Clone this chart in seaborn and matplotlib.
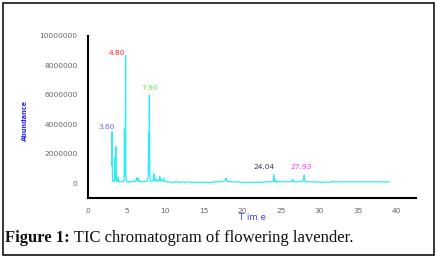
import matplotlib
matplotlib.use("Agg")
import matplotlib.pyplot as plt
import seaborn as sns
import pandas as pd
from matplotlib.patches import Rectangle
from matplotlib.ticker import MultipleLocator

# ---- data ----
time_min = [
    3.08, 3.10, 3.14, 3.18, 3.24, 3.32, 3.40, 3.47, 3.50, 3.53, 3.57, 3.60, 3.63, 3.67,
    3.75, 3.85, 3.92, 3.96, 4.05, 4.20, 4.35, 4.50, 4.62, 4.68, 4.72, 4.76, 4.81, 4.87,
    4.90, 4.93, 4.97, 5.05, 5.20, 5.35, 5.50, 5.65, 5.80, 5.95, 6.10, 6.22, 6.30, 6.38,
    6.46, 6.55, 6.70, 6.90, 7.10, 7.30, 7.50, 7.65, 7.75, 7.80, 7.84, 7.88, 7.91, 7.95,
    8.00, 8.06, 8.15, 8.25, 8.35, 8.45, 8.50, 8.55, 8.62, 8.70, 8.80, 8.90, 9.00, 9.10,
    9.20, 9.30, 9.36, 9.42, 9.55, 9.70, 9.80, 9.86, 9.95, 10.10, 10.5, 11.0, 11.4, 11.8,
    12.2, 12.6, 13.0, 13.5, 14.0, 14.5, 15.0, 15.5, 16.0, 16.5, 17.0, 17.5, 17.8, 17.9,
    18.0, 18.5, 19.0, 19.5, 20.0, 20.5, 21.0, 21.5, 22.0, 22.5, 23.0, 23.5, 24.0, 24.1,
    24.2, 24.3, 24.45, 24.6, 25.0, 25.5, 26.0, 26.4, 26.5, 26.6, 27.0, 27.5, 27.9, 28.0,
    28.1, 28.5, 29.0, 29.5, 30.0, 30.5, 30.8, 31.2, 31.5, 32.0, 33.0, 35.0, 37.0, 39.0,
]
abundance_millions = [
    1.20, 3.50, 1.20, 0.25, 0.12, 0.20, 0.15, 0.30, 1.80, 0.30, 0.20, 2.50, 0.80, 0.20,
    0.12, 0.15, 0.40, 0.12, 0.10, 0.12, 0.10, 0.14, 0.12, 0.20, 3.70, 1.00, 0.50, 8.70,
    0.80, 0.35, 0.15, 0.10, 0.05, 0.12, 0.08, 0.15, 0.10, 0.12, 0.10, 0.20, 0.38, 0.15,
    0.35, 0.12, 0.10, 0.12, 0.10, 0.13, 0.12, 0.15, 0.35, 0.45, 3.40, 0.60, 1.00, 6.00,
    0.70, 0.20, 0.12, 0.15, 0.20, 0.15, 0.65, 0.20, 0.50, 0.15, 0.25, 0.30, 0.12, 0.20,
    0.15, 0.45, 0.20, 0.30, 0.15, 0.20, 0.35, 0.12, 0.15, 0.10, 0.08, 0.05, 0.12, 0.06,
    0.10, 0.05, 0.10, 0.06, 0.08, 0.05, 0.07, 0.05, 0.06, 0.10, 0.10, 0.12, 0.25, 0.35,
    0.12, 0.10, 0.10, 0.10, 0.05, 0.05, 0.07, 0.05, 0.08, 0.06, 0.10, 0.10, 0.12, 0.60,
    0.12, 0.20, 0.05, 0.12, 0.10, 0.10, 0.10, 0.12, 0.28, 0.10, 0.10, 0.12, 0.15, 0.60,
    0.12, 0.10, 0.10, 0.10, 0.08, 0.05, 0.10, 0.05, 0.12, 0.10, 0.10, 0.10, 0.10, 0.10,
]
peak_labels = ["3.60", "4.80", "7.90", "24.04", "27.93"]
peak_label_x = [2.45, 3.80, 8.00, 22.80, 27.60]
peak_label_y_millions = [3.80, 8.85, 6.45, 1.10, 1.10]
peak_label_colors = ["#6b63f0", "#ff2a2a", "#66e640", "#3a3a5a", "#ff3cff"]

y_ticks_millions = [0, 2, 4, 6, 8, 10]
x_ticks = [0, 5, 10, 15, 20, 25, 30, 35, 40]

# ---- figure ----
sns.set_style("white")
plt.rcParams["font.family"] = ["DejaVu Sans"]

fig = plt.figure(figsize=(4.38, 2.58), dpi=100)
ax = fig.add_axes([88 / 438, 1 - 198 / 258, (416 - 88) / 438, (198 - 36) / 258])

df = pd.DataFrame({"Time": time_min,
                   "Abundance": [v * 1e6 for v in abundance_millions]})
sns.lineplot(data=df, x="Time", y="Abundance", ax=ax, color="#2eeef2",
             linewidth=0.9, estimator=None, sort=False)

ax.set_xlim(0, 42.5)
ax.set_ylim(-1.0e6, 10.0e6)
ax.set_xticks(x_ticks)
ax.set_yticks([v * 1e6 for v in y_ticks_millions])
ax.set_yticklabels([str(int(v * 1e6)) for v in y_ticks_millions])
ax.set_xticklabels([str(v) for v in x_ticks])
ax.xaxis.set_minor_locator(MultipleLocator(2.5))
ax.yaxis.set_minor_locator(MultipleLocator(1e6))

for s in ["top", "right"]:
    ax.spines[s].set_visible(False)
for s in ["left", "bottom"]:
    ax.spines[s].set_color("black")
    ax.spines[s].set_linewidth(1.5)

ax.tick_params(axis="both", which="major", direction="out", length=3.5, width=0.8,
               labelsize=5.4, colors="black", pad=4)
ax.tick_params(axis="both", which="minor", direction="out", length=2.2, width=0.7,
               colors="black")
for lab in ax.get_xticklabels() + ax.get_yticklabels():
    lab.set_color("#666666")

ax.set_xlabel("")
ax.set_ylabel("")
ax.patch.set_alpha(0)

for lab, lx, ly, c in zip(peak_labels, peak_label_x, peak_label_y_millions, peak_label_colors):
    ax.text(lx, ly * 1e6, lab, color=c, fontsize=5.4, ha="center", va="center")

fig.text(252 / 438, 1 - 218 / 258, "T im e", color="#3a3aff", fontsize=6.2,
         ha="center", va="center")
fig.text(25 / 438, 1 - 120 / 258, "Abundance", color="#2a2aff", fontsize=4.8,
         fontweight="bold", rotation=90, ha="center", va="center")

# outer frame
fig.patches.append(Rectangle((3 / 438, 3 / 258), 431 / 438, 252 / 258,
                             transform=fig.transFigure, fill=False,
                             edgecolor="black", linewidth=1.1))

# caption
cap_y = 1 - 242 / 258
cap_fs = 12.0
t1 = fig.text(5 / 438, cap_y, "Figure 1:", fontsize=cap_fs, fontweight="bold",
              family=["Liberation Serif", "DejaVu Serif"], color="#111111",
              va="baseline", ha="left")
fig.canvas.draw()
bb = t1.get_window_extent(renderer=fig.canvas.get_renderer())
x2 = bb.x1 / fig.bbox.width
fig.text(x2, cap_y, " TIC chromatogram of flowering lavender.", fontsize=cap_fs,
         family=["Liberation Serif", "DejaVu Serif"], color="#111111",
         va="baseline", ha="left")

fig.savefig("out.png", dpi=100)
